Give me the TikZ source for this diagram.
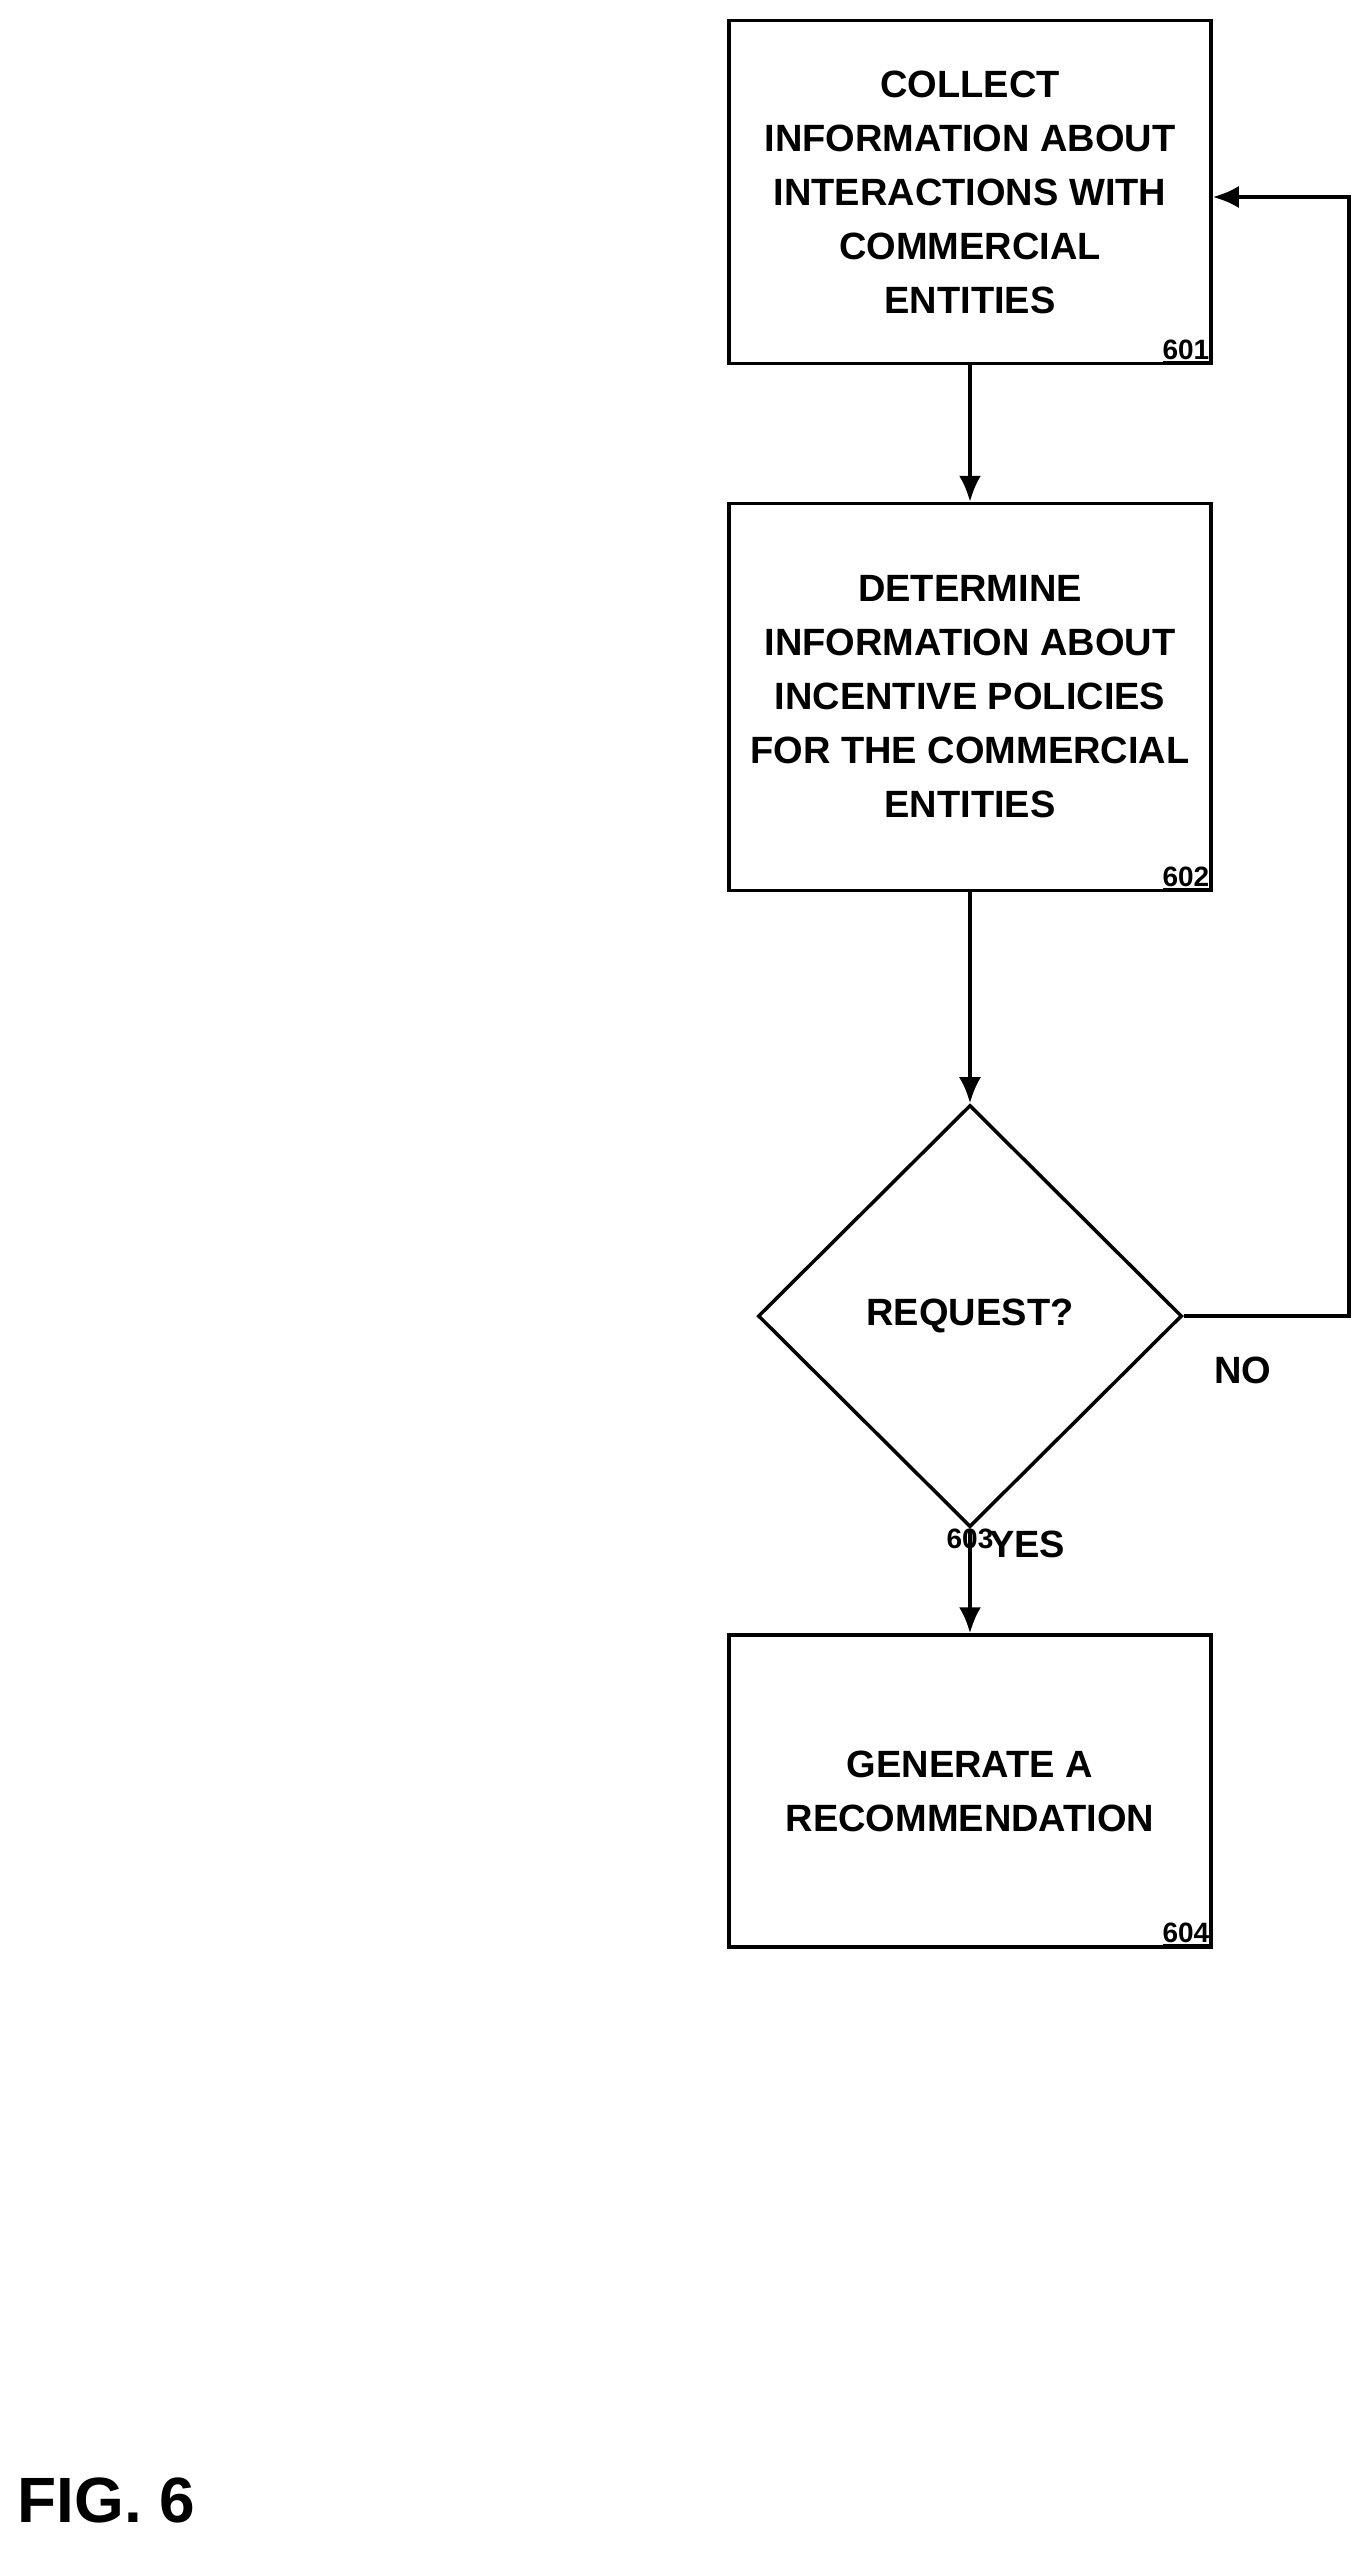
\documentclass[tikz,border=0pt]{standalone}
\usepackage{fontspec}
\setmainfont{Liberation Sans}
\usetikzlibrary{shapes.geometric, positioning, arrows.meta}
\tikzset{
  stage/.style={draw, line width=3.5pt, minimum width=482pt, align=center,
    font=\fontsize{38}{54}\selectfont\bfseries},
  decide/.style={draw, line width=3.5pt, diamond, minimum width=424pt, minimum height=422pt, inner sep=0pt,
    font=\fontsize{38}{54}\selectfont\bfseries},
  num/.style={font=\fontsize{28}{30}\selectfont\bfseries},
  flow/.style={line width=3.5pt, -{Latex[length=26pt, width=22pt]}}
}
\begin{document}
\begin{tikzpicture}[x=1pt, y=-1pt]
	\useasboundingbox (0,0) rectangle (1362,2556);

	\node [stage, minimum height=343pt] (collect) at (970,192) {COLLECT\\INFORMATION ABOUT\\INTERACTIONS WITH\\COMMERCIAL\\ENTITIES};
	\node [num, anchor=south east] at (collect.south east) {\underline{601}};
	\node [stage, minimum height=387pt] (determine) at (970,697) {DETERMINE\\INFORMATION ABOUT\\INCENTIVE POLICIES\\FOR THE COMMERCIAL\\ENTITIES};
	\node [num, anchor=south east] at (determine.south east) {\underline{602}};
	\node [decide] (request) at (970,1316) {REQUEST?};
	\node [num, anchor=south] at ([yshift=-24pt]request.south) {603};
	\node [stage, minimum height=312pt] (generate) at (970,1791) {GENERATE A\\RECOMMENDATION};
	\node [num, anchor=south east] at (generate.south east) {\underline{604}};

	\draw [flow] (collect) -- (determine);
	\draw [flow] (determine) -- (request);
	\draw [flow] (request) -- (generate) node [pos=0.15, right=14pt, font=\fontsize{38}{40}\selectfont\bfseries] {YES};
	\coordinate (loop) at (1349,197);
	\draw [flow] (request.east) -| (loop) -- (collect.east |- loop);
	\node [font=\fontsize{38}{40}\selectfont\bfseries] (no) at (1243,1370) {NO};

	\node [anchor=west, font=\fontsize{64}{70}\selectfont\bfseries] (fig) at (14,2500) {FIG. 6};
\end{tikzpicture}
\end{document}
